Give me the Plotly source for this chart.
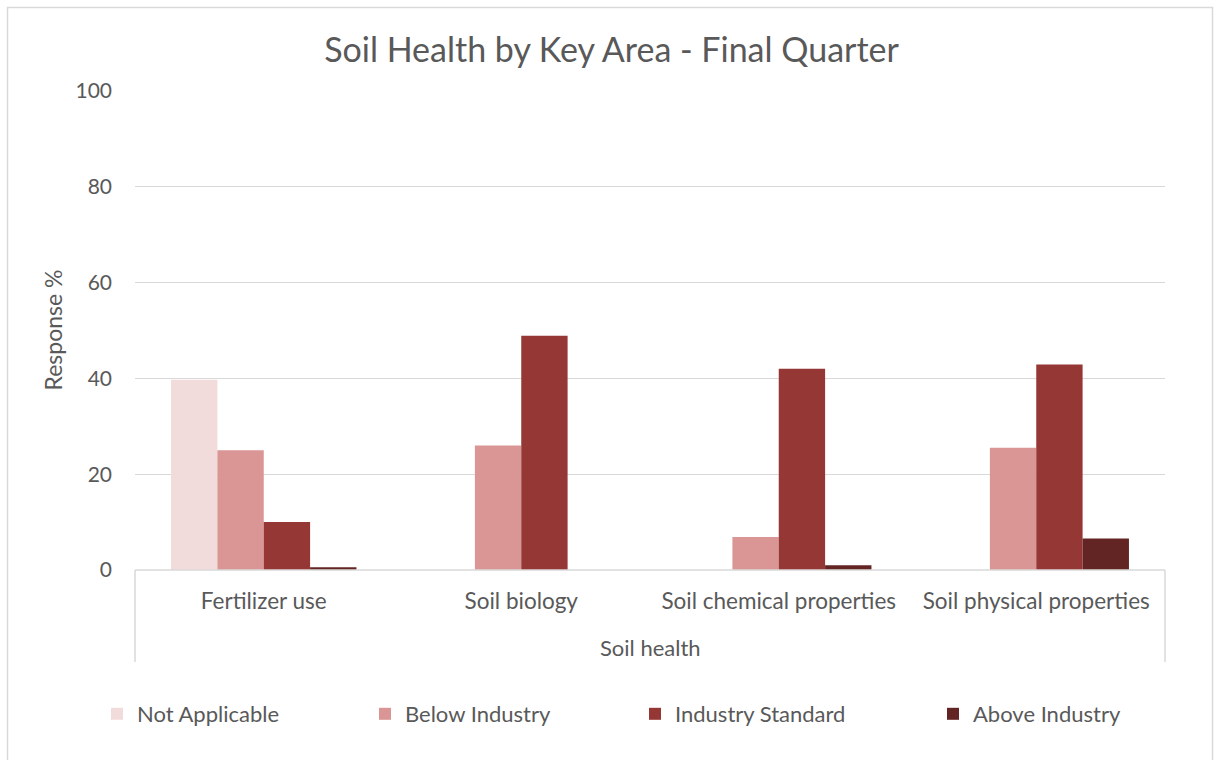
import plotly.graph_objects as go

categories = ["Fertilizer use", "Soil biology", "Soil chemical properties", "Soil physical properties"]
series_names = ["Not Applicable", "Below Industry", "Industry Standard", "Above Industry"]
not_applicable = [39.7, 0, 0, 0]
below_industry = [25.0, 26.0, 6.9, 25.5]
industry_standard = [10.0, 48.9, 42.0, 42.9]
above_industry = [0.6, 0, 1.0, 6.6]
y_ticks = [0, 20, 40, 60, 80, 100]

colors = ["#F2DCDB", "#D99694", "#953735", "#632523"]
values = [not_applicable, below_industry, industry_standard, above_industry]
legend_ids = ["legend", "legend2", "legend3", "legend4"]

FONT = "Lato, Carlito, Calibri, sans-serif"
GREY = "#595959"

fig = go.Figure()
for name, vals, col, lg in zip(series_names, values, colors, legend_ids):
    fig.add_trace(go.Bar(x=categories, y=vals, name=name, marker_color=col,
                         marker_line_width=0, legend=lg))

W, H = 1214, 760
L, R, T, B = 135, 1165, 91, 570
pw, ph = R - L, B - T

def px_x(x):
    return (x - L) / pw

def px_y(y):
    return (B - y) / ph

legend_px = [97, 365, 635, 933]
legend_y = px_y(714)
layout_legends = {}
for lg, xp in zip(legend_ids, legend_px):
    layout_legends[lg] = dict(x=px_x(xp), y=legend_y, xanchor="left", yanchor="middle",
                              orientation="h", font=dict(family=FONT, size=22, color=GREY),
                              bgcolor="rgba(0,0,0,0)")

fig.update_layout(
    width=W, height=H,
    margin=dict(l=L, r=W - R, t=T, b=H - B, pad=0),
    paper_bgcolor="white", plot_bgcolor="white",
    font=dict(family=FONT, color=GREY),
    title=dict(text="Soil Health by Key Area - Final Quarter", x=611.5 / W, xref="container",
               xanchor="center", y=1 - 50 / H, yref="container", yanchor="middle",
               font=dict(family=FONT, size=34, color=GREY)),
    barmode="group", bargap=0.28, bargroupgap=0,
    showlegend=True,
    **layout_legends,
)

fig.update_xaxes(type="category", showline=False, showgrid=False, zeroline=False,
                 ticks="", ticklabelstandoff=15,
                 tickfont=dict(family=FONT, size=22.5, color=GREY))
fig.update_yaxes(range=[0, 100], tickvals=y_ticks, showgrid=True, gridcolor="#D9D9D9",
                 gridwidth=1.3, zeroline=False, showline=False, ticks="",
                 ticklabelstandoff=22, tickfont=dict(family=FONT, size=21, color=GREY))

# y-axis title and category group label
fig.add_annotation(text="Response %", xref="paper", yref="paper", x=px_x(52), y=0.5,
                   textangle=-90, showarrow=False, xanchor="center", yanchor="middle",
                   font=dict(family=FONT, size=23, color=GREY))
fig.add_annotation(text="Soil health", xref="paper", yref="paper", x=0.5, y=px_y(647),
                   showarrow=False, xanchor="center", yanchor="middle",
                   font=dict(family=FONT, size=22, color=GREY))

# category box lines and baseline
line_style = dict(color="#D9D9D9", width=1.5)
fig.add_shape(type="line", xref="paper", yref="paper", x0=0, x1=0, y0=0, y1=px_y(662), line=line_style)
fig.add_shape(type="line", xref="paper", yref="paper", x0=1, x1=1, y0=0, y1=px_y(662), line=line_style)
fig.add_shape(type="line", xref="paper", yref="paper", x0=0, x1=1, y0=0, y1=0, line=line_style)

# outer chart frame
fig.add_shape(type="rect", xref="paper", yref="paper", x0=px_x(7.5), x1=px_x(1212.5),
              y0=px_y(765), y1=px_y(7.5), line=dict(color="#D9D9D9", width=1.5),
              fillcolor="rgba(0,0,0,0)", layer="below")

fig.write_html("out.html", config={"displayModeBar": False},
               post_script="document.body.style.margin='0';")
